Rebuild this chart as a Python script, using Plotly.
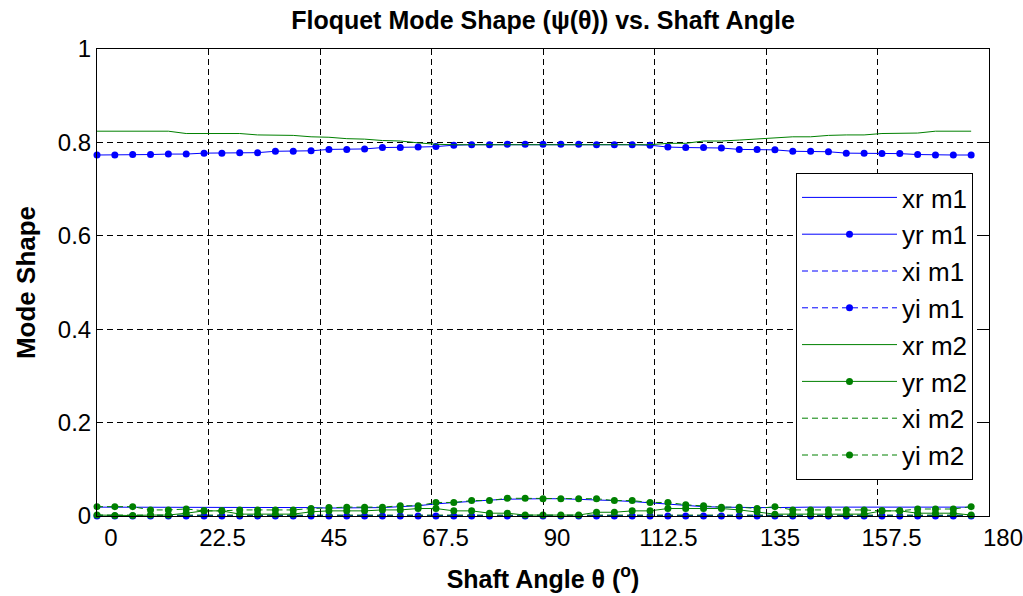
import plotly.graph_objects as go

theta = [0, 3.6, 7.2, 10.8, 14.4, 18, 21.6, 25.2, 28.8, 32.4,
         36, 39.6, 43.2, 46.8, 50.4, 54, 57.6, 61.2, 64.8, 68.4,
         72, 75.6, 79.2, 82.8, 86.4, 90, 93.6, 97.2, 100.8, 104.4,
         108, 111.6, 115.2, 118.8, 122.4, 126, 129.6, 133.2, 136.8, 140.4,
         144, 147.6, 151.2, 154.8, 158.4, 162, 165.6, 169.2, 172.8, 176.4]

xr_m1 = [0.019, 0.019, 0.019, 0.019, 0.019, 0.019, 0.019, 0.018, 0.018, 0.018,
         0.018, 0.018, 0.018, 0.017, 0.017, 0.017, 0.018, 0.020, 0.022, 0.026,
         0.029, 0.032, 0.034, 0.036, 0.037, 0.037, 0.037, 0.036, 0.035, 0.033,
         0.031, 0.028, 0.025, 0.022, 0.020, 0.019, 0.018, 0.018, 0.018, 0.019,
         0.019, 0.019, 0.019, 0.019, 0.019, 0.019, 0.019, 0.019, 0.019, 0.019]

yr_m1 = [0.773, 0.773, 0.774, 0.774, 0.775, 0.775, 0.777, 0.777, 0.778, 0.778,
         0.781, 0.781, 0.782, 0.785, 0.785, 0.786, 0.789, 0.789, 0.790, 0.791,
         0.794, 0.795, 0.795, 0.796, 0.796, 0.796, 0.796, 0.796, 0.795, 0.795,
         0.795, 0.794, 0.790, 0.789, 0.789, 0.788, 0.785, 0.785, 0.784, 0.781,
         0.781, 0.780, 0.777, 0.777, 0.776, 0.776, 0.774, 0.773, 0.773, 0.773]

xi_m1 = [0.001, 0.001, 0.001, 0.001, 0.001, 0.001, 0.001, 0.001, 0.001, 0.001,
         0.001, 0.001, 0.001, 0.001, 0.001, 0.001, 0.001, 0.001, 0.001, 0.001,
         0.001, 0.001, 0.001, 0.001, 0.001, 0.001, 0.001, 0.001, 0.001, 0.001,
         0.001, 0.001, 0.001, 0.001, 0.001, 0.001, 0.001, 0.001, 0.001, 0.001,
         0.001, 0.001, 0.001, 0.001, 0.001, 0.001, 0.001, 0.001, 0.001, 0.001]

yi_m1 = [0.000, 0.000, 0.000, 0.000, 0.000, 0.000, 0.000, 0.000, 0.000, 0.000,
         0.000, 0.000, 0.000, 0.000, 0.000, 0.000, 0.000, 0.000, 0.000, 0.000,
         0.000, 0.000, 0.000, 0.000, 0.000, 0.000, 0.000, 0.000, 0.000, 0.000,
         0.000, 0.000, 0.000, 0.000, 0.000, 0.000, 0.000, 0.000, 0.000, 0.000,
         0.000, 0.000, 0.000, 0.000, 0.000, 0.000, 0.000, 0.000, 0.000, 0.000]

xr_m2 = [0.824, 0.824, 0.824, 0.824, 0.824, 0.819, 0.819, 0.819, 0.819, 0.816,
         0.816, 0.815, 0.812, 0.811, 0.808, 0.807, 0.804, 0.803, 0.799, 0.796,
         0.795, 0.795, 0.795, 0.795, 0.795, 0.795, 0.795, 0.795, 0.795, 0.795,
         0.795, 0.795, 0.798, 0.798, 0.803, 0.803, 0.805, 0.807, 0.809, 0.812,
         0.812, 0.815, 0.816, 0.816, 0.819, 0.819, 0.820, 0.824, 0.824, 0.824]

yr_m2 = [0.002, 0.001, 0.001, 0.002, 0.002, 0.006, 0.011, 0.011, 0.004, 0.004,
         0.004, 0.004, 0.009, 0.011, 0.011, 0.011, 0.013, 0.013, 0.016, 0.016,
         0.011, 0.011, 0.006, 0.006, 0.002, 0.002, 0.002, 0.002, 0.008, 0.008,
         0.011, 0.011, 0.016, 0.016, 0.016, 0.016, 0.013, 0.009, 0.004, 0.004,
         0.004, 0.004, 0.004, 0.004, 0.011, 0.011, 0.006, 0.006, 0.006, 0.002]

xi_m2 = [0.002, 0.002, 0.002, 0.002, 0.002, 0.002, 0.002, 0.002, 0.002, 0.002,
         0.002, 0.002, 0.002, 0.002, 0.002, 0.002, 0.002, 0.002, 0.002, 0.002,
         0.002, 0.002, 0.002, 0.002, 0.002, 0.002, 0.002, 0.002, 0.002, 0.002,
         0.002, 0.002, 0.002, 0.002, 0.002, 0.002, 0.002, 0.002, 0.002, 0.002,
         0.002, 0.002, 0.002, 0.002, 0.002, 0.002, 0.002, 0.002, 0.002, 0.002]

yi_m2 = [0.020, 0.020, 0.020, 0.013, 0.013, 0.015, 0.011, 0.011, 0.013, 0.013,
         0.013, 0.013, 0.016, 0.018, 0.019, 0.019, 0.019, 0.022, 0.022, 0.029,
         0.029, 0.033, 0.033, 0.038, 0.038, 0.037, 0.037, 0.037, 0.037, 0.033,
         0.033, 0.029, 0.029, 0.024, 0.022, 0.019, 0.019, 0.016, 0.020, 0.013,
         0.013, 0.013, 0.013, 0.013, 0.011, 0.011, 0.015, 0.015, 0.015, 0.020]

x_tickvals = [0, 22.5, 45, 67.5, 90, 112.5, 135, 157.5, 180]
x_ticktext = ["0", "22.5", "45", "67.5", "90", "112.5", "135", "157.5", "180"]
y_tickvals = [0, 0.2, 0.4, 0.6, 0.8, 1]
y_ticktext = ["0", "0.2", "0.4", "0.6", "0.8", "1"]

BLUE = "rgb(0,0,255)"
GREEN = "rgb(0,128,0)"
DASH = "6px,4px"
FONT = "Liberation Sans, Arial, Helvetica, sans-serif"

series = [
    ("xr m1", xr_m1, BLUE, "solid", False),
    ("yr m1", yr_m1, BLUE, "solid", True),
    ("xi m1", xi_m1, BLUE, DASH, False),
    ("yi m1", yi_m1, BLUE, DASH, True),
    ("xr m2", xr_m2, GREEN, "solid", False),
    ("yr m2", yr_m2, GREEN, "solid", True),
    ("xi m2", xi_m2, GREEN, DASH, False),
    ("yi m2", yi_m2, GREEN, DASH, True),
]

fig = go.Figure()
for name, vals, color, dash, has_marker in series:
    fig.add_trace(go.Scatter(
        x=theta, y=vals, name=name,
        mode="lines+markers" if has_marker else "lines",
        line=dict(color=color, width=1, dash=dash),
        marker=dict(color=color, size=7, line=dict(width=0)),
        cliponaxis=False,
    ))

axis_common = dict(
    showline=True, linecolor="black", linewidth=1, mirror="ticks",
    ticks="inside", ticklen=6, tickcolor="black", tickwidth=1,
    showgrid=True, gridcolor="black", gridwidth=1, griddash="6px,4px",
    zeroline=False, automargin=False,
    tickfont=dict(family=FONT, size=24, color="black"),
)

fig.update_layout(
    width=1023, height=596,
    margin=dict(l=97, r=34, t=49, b=80),
    paper_bgcolor="white", plot_bgcolor="white",
    title=dict(
        text="<b>Floquet Mode Shape (ψ(θ)) vs. Shaft Angle</b>",
        x=0.5, xref="paper", xanchor="center",
        y=1 - 20 / 596, yanchor="middle",
        font=dict(family=FONT, size=25, color="black"),
    ),
    xaxis=dict(
        range=[0, 180], tickmode="array", tickvals=x_tickvals, ticktext=x_ticktext,
        ticklabelshift=14, ticklabelstandoff=0, ticklabeloverflow="allow",
        title=dict(text="<b>Shaft Angle θ (<sup>o</sup>)</b>", standoff=20,
                   font=dict(family=FONT, size=25, color="black")),
        **axis_common,
    ),
    yaxis=dict(
        range=[0, 1], tickmode="array", tickvals=y_tickvals, ticktext=y_ticktext,
        ticklabelstandoff=0,
        title=dict(text="<b>Mode Shape</b>", standoff=14,
                   font=dict(family=FONT, size=26, color="black")),
        **axis_common,
    ),
    legend=dict(
        x=(973 - 97) / 892, xanchor="right",
        y=(516 - 173) / 467, yanchor="top",
        bgcolor="white", bordercolor="black", borderwidth=1,
        font=dict(family=FONT, size=26, color="black"),
        itemwidth=95, tracegroupgap=0,
    ),
    showlegend=True,
)

fig.write_html("out.html")
